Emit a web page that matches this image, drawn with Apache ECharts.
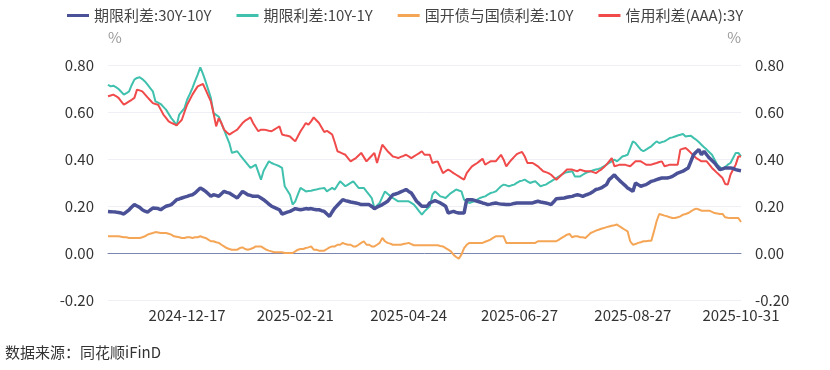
<!DOCTYPE html>
<html>
<head>
<meta charset="utf-8">
<script src="https://cdn.jsdelivr.net/npm/echarts@6/dist/echarts.min.js"></script>
<style>
html,body{margin:0;padding:0;background:#fff;}
#chart{width:830px;height:370px;}
</style>
</head>
<body>
<div id="chart"></div>
<script>
// ---- categories: trading days 2024-11-05 .. 2025-10-31 ----
var startDate = '2024-11-05';
var endDate = '2025-10-31';
var holidays = ['2025-01-01','2025-01-28','2025-01-29','2025-01-30','2025-01-31','2025-02-03','2025-02-04',
  '2025-04-04','2025-05-01','2025-05-02','2025-05-05','2025-06-02',
  '2025-10-01','2025-10-02','2025-10-03','2025-10-06','2025-10-07','2025-10-08'];
var tickLabels = ['2024-12-17','2025-02-21','2025-04-24','2025-06-27','2025-08-27','2025-10-31'];

var seriesNames = ['期限利差:30Y-10Y','期限利差:10Y-1Y','国开债与国债利差:10Y','信用利差(AAA):3Y'];

var term30_10 = [
0.177,0.176,0.175,0.174,0.172,0.170,0.166,0.175,0.184,0.196,
0.206,0.200,0.194,0.184,0.178,0.174,0.183,0.191,0.190,0.189,
0.184,0.192,0.199,0.202,0.206,0.216,0.227,0.230,0.234,0.238,
0.241,0.245,0.248,0.255,0.266,0.277,0.270,0.262,0.252,0.241,
0.248,0.245,0.241,0.252,0.262,0.258,0.255,0.248,0.241,0.234,
0.248,0.262,0.255,0.248,0.245,0.241,0.241,0.241,0.234,0.227,
0.218,0.208,0.199,0.194,0.189,0.184,0.166,0.170,0.174,0.177,
0.183,0.189,0.186,0.184,0.186,0.189,0.187,0.189,0.186,0.184,
0.184,0.180,0.177,0.166,0.156,0.175,0.191,0.203,0.215,0.227,
0.223,0.220,0.217,0.215,0.213,0.210,0.206,0.206,0.206,0.206,
0.198,0.189,0.195,0.200,0.206,0.213,0.220,0.234,0.248,0.251,
0.255,0.260,0.265,0.270,0.262,0.255,0.238,0.220,0.210,0.199,
0.199,0.199,0.213,0.218,0.223,0.218,0.213,0.206,0.199,0.170,
0.174,0.177,0.173,0.170,0.170,0.170,0.227,0.227,0.227,0.224,
0.220,0.217,0.213,0.210,0.206,0.208,0.211,0.213,0.210,0.208,
0.207,0.206,0.206,0.208,0.211,0.213,0.213,0.213,0.213,0.213,
0.213,0.213,0.217,0.220,0.217,0.215,0.213,0.210,0.206,0.218,
0.231,0.232,0.233,0.234,0.237,0.239,0.241,0.245,0.248,0.245,
0.241,0.246,0.250,0.255,0.262,0.270,0.273,0.277,0.284,0.291,
0.312,0.322,0.333,0.319,0.308,0.298,0.288,0.277,0.270,0.262,
0.298,0.291,0.284,0.288,0.291,0.298,0.305,0.308,0.312,0.316,
0.319,0.319,0.319,0.322,0.326,0.333,0.340,0.344,0.348,0.355,
0.362,0.390,0.418,0.430,0.440,0.418,0.433,0.418,0.404,0.394,
0.383,0.369,0.355,0.358,0.362,0.362,0.362,0.360,0.355,0.352,
0.350];

var term10_1 = [
0.716,0.709,0.712,0.706,0.698,0.686,0.674,0.680,0.688,0.715,
0.738,0.745,0.748,0.740,0.730,0.716,0.702,0.688,0.645,0.640,
0.634,0.622,0.610,0.592,0.574,0.560,0.542,0.589,0.603,0.617,
0.652,0.676,0.702,0.731,0.759,0.790,0.762,0.730,0.695,0.660,
0.596,0.588,0.580,0.552,0.525,0.495,0.468,0.426,0.430,0.433,
0.418,0.404,0.390,0.376,0.362,0.369,0.376,0.344,0.312,0.350,
0.370,0.390,0.383,0.378,0.374,0.369,0.362,0.284,0.266,0.248,
0.206,0.220,0.249,0.277,0.270,0.262,0.264,0.265,0.268,0.270,
0.273,0.275,0.277,0.262,0.270,0.277,0.270,0.288,0.305,0.295,
0.284,0.291,0.298,0.305,0.291,0.277,0.277,0.277,0.262,0.248,
0.234,0.191,0.202,0.213,0.238,0.262,0.252,0.243,0.234,0.227,
0.220,0.220,0.220,0.220,0.220,0.213,0.206,0.192,0.177,0.163,
0.177,0.188,0.199,0.248,0.262,0.252,0.241,0.238,0.234,0.245,
0.255,0.262,0.270,0.266,0.262,0.227,0.220,0.213,0.217,0.220,
0.227,0.234,0.238,0.241,0.248,0.255,0.258,0.262,0.273,0.284,
0.291,0.288,0.284,0.288,0.291,0.298,0.305,0.308,0.312,0.305,
0.298,0.302,0.305,0.295,0.284,0.288,0.291,0.298,0.305,0.312,
0.319,0.326,0.333,0.340,0.344,0.346,0.348,0.326,0.326,0.326,
0.333,0.340,0.344,0.348,0.352,0.355,0.358,0.362,0.369,0.376,
0.383,0.390,0.397,0.390,0.400,0.411,0.414,0.418,0.446,0.475,
0.468,0.454,0.440,0.433,0.440,0.447,0.454,0.465,0.475,0.468,
0.472,0.475,0.482,0.489,0.492,0.496,0.500,0.503,0.506,0.496,
0.498,0.499,0.490,0.482,0.472,0.461,0.450,0.440,0.429,0.418,
0.397,0.376,0.366,0.355,0.366,0.376,0.383,0.404,0.426,0.426,
0.411];

var cdbSpread10 = [
0.071,0.071,0.071,0.071,0.071,0.069,0.067,0.067,0.064,0.064,
0.064,0.064,0.064,0.067,0.071,0.078,0.082,0.085,0.089,0.087,
0.085,0.085,0.085,0.082,0.078,0.071,0.069,0.067,0.064,0.064,
0.067,0.067,0.064,0.067,0.067,0.071,0.067,0.064,0.057,0.050,
0.050,0.046,0.043,0.035,0.028,0.021,0.017,0.014,0.014,0.014,
0.021,0.024,0.017,0.014,0.017,0.021,0.028,0.028,0.028,0.021,
0.014,0.010,0.007,0.003,0.003,0.003,0.003,0.000,0.000,0.000,
0.000,0.007,0.014,0.017,0.017,0.021,0.024,0.028,0.014,0.014,
0.010,0.010,0.010,0.017,0.024,0.028,0.028,0.035,0.035,0.043,
0.038,0.035,0.035,0.028,0.028,0.035,0.043,0.050,0.035,0.035,
0.028,0.028,0.035,0.043,0.064,0.050,0.043,0.040,0.035,0.035,
0.035,0.035,0.038,0.040,0.043,0.038,0.033,0.033,0.033,0.033,
0.033,0.033,0.033,0.033,0.033,0.033,0.030,0.028,0.021,0.014,
0.007,-0.007,-0.017,-0.024,-0.007,0.021,0.035,0.043,0.043,0.043,
0.043,0.043,0.043,0.048,0.052,0.057,0.064,0.071,0.071,0.071,
0.071,0.043,0.043,0.043,0.043,0.043,0.043,0.043,0.043,0.043,
0.043,0.043,0.043,0.050,0.050,0.050,0.050,0.050,0.050,0.050,
0.050,0.057,0.064,0.071,0.078,0.081,0.067,0.071,0.071,0.067,
0.067,0.064,0.074,0.085,0.090,0.095,0.099,0.103,0.106,0.110,
0.113,0.116,0.118,0.121,0.113,0.106,0.099,0.092,0.050,0.035,
0.038,0.043,0.046,0.050,0.050,0.052,0.052,0.092,0.135,0.166,
0.163,0.159,0.156,0.152,0.149,0.149,0.152,0.156,0.163,0.166,
0.170,0.177,0.184,0.189,0.185,0.180,0.180,0.180,0.180,0.175,
0.170,0.168,0.166,0.166,0.152,0.150,0.149,0.149,0.149,0.149,
0.132];

var creditAAA3 = [
0.667,0.670,0.674,0.668,0.660,0.645,0.631,0.638,0.645,0.652,
0.660,0.695,0.692,0.688,0.675,0.662,0.650,0.638,0.634,0.631,
0.610,0.589,0.575,0.560,0.554,0.549,0.543,0.555,0.567,0.600,
0.631,0.652,0.674,0.692,0.709,0.714,0.719,0.695,0.670,0.645,
0.596,0.539,0.574,0.553,0.525,0.514,0.504,0.511,0.518,0.525,
0.539,0.553,0.563,0.570,0.577,0.553,0.535,0.518,0.525,0.525,
0.523,0.520,0.518,0.525,0.532,0.539,0.504,0.501,0.499,0.496,
0.485,0.475,0.497,0.518,0.535,0.553,0.546,0.560,0.577,0.565,
0.553,0.534,0.515,0.520,0.512,0.504,0.470,0.433,0.428,0.423,
0.418,0.404,0.390,0.397,0.404,0.415,0.426,0.408,0.390,0.402,
0.414,0.426,0.383,0.422,0.461,0.447,0.433,0.422,0.411,0.408,
0.404,0.409,0.413,0.418,0.411,0.404,0.411,0.418,0.425,0.433,
0.418,0.418,0.418,0.383,0.387,0.390,0.365,0.340,0.348,0.355,
0.348,0.340,0.333,0.326,0.319,0.312,0.340,0.355,0.369,0.376,
0.383,0.392,0.401,0.376,0.383,0.390,0.390,0.390,0.404,0.418,
0.397,0.369,0.383,0.397,0.409,0.421,0.426,0.430,0.411,0.383,
0.383,0.383,0.376,0.369,0.358,0.348,0.344,0.340,0.333,0.322,
0.312,0.322,0.333,0.344,0.355,0.355,0.355,0.351,0.348,0.355,
0.351,0.348,0.348,0.348,0.344,0.340,0.348,0.355,0.365,0.376,
0.390,0.404,0.369,0.372,0.376,0.376,0.376,0.372,0.369,0.380,
0.390,0.390,0.390,0.383,0.376,0.376,0.376,0.380,0.383,0.387,
0.390,0.369,0.372,0.376,0.376,0.376,0.376,0.440,0.444,0.447,
0.437,0.426,0.415,0.404,0.397,0.390,0.390,0.390,0.376,0.362,
0.351,0.340,0.330,0.319,0.294,0.291,0.333,0.355,0.376,0.411,
0.411];

var colors = ['#4a5196','#3fc1ae','#f5a556','#f04a4a'];

function pad(n){return n<10?'0'+n:''+n;}
function buildDates(){
  var out=[]; var d=new Date(startDate+'T00:00:00Z'); var e=new Date(endDate+'T00:00:00Z');
  while(d<=e){
    var wd=d.getUTCDay();
    var s=d.getUTCFullYear()+'-'+pad(d.getUTCMonth()+1)+'-'+pad(d.getUTCDate());
    if(wd!==0 && wd!==6 && holidays.indexOf(s)<0) out.push(s);
    d=new Date(d.getTime()+86400000);
  }
  return out;
}
var dates = buildDates();

var chart = echarts.init(document.getElementById('chart'), null, {renderer:'canvas'});
var font = '"Noto Sans CJK SC","Noto Sans",sans-serif';
var seriesData = [term30_10, term10_1, cdbSpread10, creditAAA3];
var widths = [3.5, 2, 2, 2];

var yAxisCommon = {
  type:'value', min:-0.2, max:0.8, interval:0.2,
  axisLine:{show:false}, axisTick:{show:false},
  axisLabel:{color:'#333', fontSize:15, fontFamily:font, margin:14,
    formatter:function(v){return v.toFixed(2);}},
  nameTextStyle:{color:'#999', fontSize:15, fontFamily:font}
};

chart.setOption({
  animation:false,
  backgroundColor:'#fff',
  color: colors,
  textStyle:{fontFamily:font},
  legend:{
    top:3, left:62, itemGap:25, itemWidth:22, itemHeight:3, icon:'rect',
    textStyle:{color:'#444', fontSize:15, fontFamily:font},
    data: seriesNames
  },
  grid:{left:108, right:89, top:65, bottom:70, containLabel:false},
  xAxis:{
    type:'category', data:dates, boundaryGap:false,
    axisLine:{show:true, lineStyle:{color:'#7b86b0', width:1}},
    axisTick:{show:false},
    axisLabel:{color:'#333', fontSize:15, fontFamily:font, margin:8,
      interval:function(i,v){return tickLabels.indexOf(v)>=0;}},
    splitLine:{show:false}
  },
  yAxis:[
    Object.assign({}, yAxisCommon, {position:'left', name:'%', nameGap:20,
      nameTextStyle:{color:'#999', fontSize:15, fontFamily:font, align:'left'},
      splitLine:{show:true, lineStyle:{color:'#eef0f6', width:1}}}),
    Object.assign({}, yAxisCommon, {position:'right', name:'%', nameGap:20,
      nameTextStyle:{color:'#999', fontSize:15, fontFamily:font, align:'right'},
      splitLine:{show:false}})
  ],
  graphic:[{type:'text', left:5, top:345,
    style:{text:'数据来源：同花顺iFinD', fill:'#333', fontSize:15, fontFamily:font}}],
  series: seriesNames.map(function(n,k){
    return {name:n, type:'line', yAxisIndex:0, data:seriesData[k], showSymbol:false, symbol:'none',
      lineStyle:{width:widths[k], color:colors[k]}, itemStyle:{color:colors[k]}, z: k===0?3:2};
  })
});
</script>
</body>
</html>
